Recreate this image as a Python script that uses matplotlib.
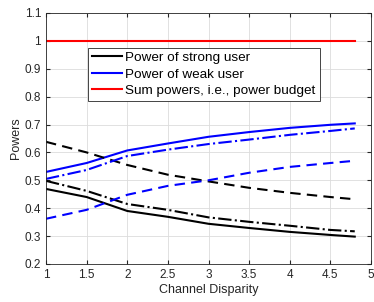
import matplotlib.pyplot as plt

plt.rcParams['font.family'] = ['Liberation Sans', 'DejaVu Sans']

# channel disparity values
x = [1, 1.5, 2, 2.5, 3, 3.5, 4, 4.5, 4.8]

strong_solid = [0.469, 0.44, 0.39, 0.369, 0.344, 0.329, 0.315, 0.304, 0.298]
strong_dashdot = [0.498, 0.462, 0.415, 0.394, 0.367, 0.351, 0.337, 0.322, 0.317]
strong_dashed = [0.638, 0.60, 0.555, 0.52, 0.496, 0.473, 0.455, 0.44, 0.432]
weak_solid = [0.53, 0.562, 0.607, 0.632, 0.656, 0.673, 0.688, 0.699, 0.704]
weak_dashdot = [0.505, 0.537, 0.587, 0.61, 0.63, 0.646, 0.663, 0.677, 0.686]
weak_dashed = [0.362, 0.394, 0.448, 0.48, 0.50, 0.527, 0.548, 0.562, 0.57]
budget = [1, 1, 1, 1, 1, 1, 1, 1, 1]

fig = plt.figure(figsize=(3.74, 3.02), dpi=100)
ax = fig.add_axes([0.123, 0.126, 0.869, 0.831])

lw = 1.5
ax.plot(x, strong_solid, color='k', lw=lw, label='Power of strong user')
ax.plot(x, weak_solid, color='b', lw=lw, label='Power of weak user')
ax.plot(x, budget, color='r', lw=lw, label='Sum powers, i.e., power budget')
ax.plot(x, strong_dashdot, color='k', lw=lw, ls='-.')
ax.plot(x, strong_dashed, color='k', lw=lw, ls=(0, (5, 3)))
ax.plot(x, weak_dashdot, color='b', lw=lw, ls='-.')
ax.plot(x, weak_dashed, color='b', lw=lw, ls=(0, (5, 3)))

ax.set_xlim(1, 5)
ax.set_ylim(0.2, 1.1)
ax.set_xticks([1, 1.5, 2, 2.5, 3, 3.5, 4, 4.5, 5])
ax.set_xticklabels(['1', '1.5', '2', '2.5', '3', '3.5', '4', '4.5', '5'])
ax.set_yticks([0.2, 0.3, 0.4, 0.5, 0.6, 0.7, 0.8, 0.9, 1.0, 1.1])
ax.set_yticklabels(['0.2', '0.3', '0.4', '0.5', '0.6', '0.7', '0.8', '0.9', '1', '1.1'])
ax.grid(True, color='#dcdcdc', lw=0.6)
ax.tick_params(direction='in', top=True, right=True, labelsize=8.5, colors='#262626', length=3)
for s in ax.spines.values():
    s.set_color('#262626')
    s.set_linewidth(0.6)

ax.set_xlabel('Channel Disparity', fontsize=9, color='#262626', labelpad=2)
ax.set_ylabel('Powers', fontsize=9, color='#262626', labelpad=2)

leg = ax.legend(loc='upper left', bbox_to_anchor=(0.13, 0.862), fontsize=9.7,
                fancybox=False, edgecolor='#262626', framealpha=1,
                handlelength=2.2, handletextpad=0.25, borderpad=0.3, labelspacing=0.3,
                borderaxespad=0)
leg.get_frame().set_linewidth(0.6)

fig.savefig('out.png', dpi=100)
